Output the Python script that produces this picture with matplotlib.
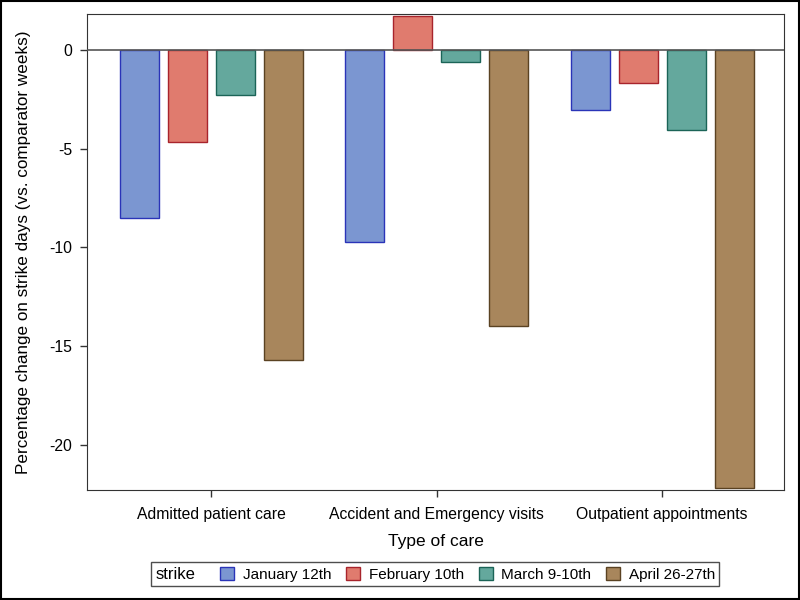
import matplotlib
matplotlib.use("Agg")
import matplotlib.pyplot as plt
import numpy as np
from matplotlib.offsetbox import HPacker
from matplotlib.patches import Rectangle

plt.rcParams["font.family"] = ["Liberation Sans", "DejaVu Sans"]
plt.rcParams["axes.unicode_minus"] = False

care_types = ["Admitted patient care", "Accident and Emergency visits", "Outpatient appointments"]
strikes = ["January 12th", "February 10th", "March 9-10th", "April 26-27th"]
jan = [-8.5, -9.7, -3.05]
feb = [-4.65, 1.72, -1.68]
mar = [-2.28, -0.6, -4.05]
apr = [-15.7, -14.0, -22.2]

fills = ["#7b96d1", "#e07b6e", "#64a89d", "#a8865c"]
edges = ["#2a34b8", "#a8242c", "#1b6457", "#5a4222"]

fig = plt.figure(figsize=(8, 6), dpi=100)
ax = fig.add_axes([0.109, 0.1833, 0.871, 0.7934])

x = np.arange(len(care_types))
step = 0.213
width = 0.173
handles = []
for i, vals in enumerate([jan, feb, mar, apr]):
    b = ax.bar(x + (i - 1.5) * step, vals, width, color=fills[i], edgecolor=edges[i],
               linewidth=1.0, label=strikes[i], zorder=2)
    handles.append(b)

ax.axhline(0, color="#555555", linewidth=1.2, zorder=3)
ax.set_xlim(-0.55, 2.54)
ax.set_ylim(-22.28, 1.82)
ax.set_yticks([0, -5, -10, -15, -20])
ax.set_xticks(x)
ax.set_xticklabels(care_types, fontsize=11.3)
ax.tick_params(axis="both", length=5, width=1, color="#333333", pad=4)
ax.tick_params(axis="x", pad=7)
ax.tick_params(axis="y", labelsize=11.3, pad=6)
ax.set_xlabel("Type of care", fontsize=12.5, labelpad=9)
ax.set_ylabel("Percentage change on strike days (vs. comparator weeks)", fontsize=12.3, labelpad=13)
for s in ax.spines.values():
    s.set_color("#333333")

leg = fig.legend(handles=handles, labels=strikes, loc="center", bbox_to_anchor=(0.544, 0.043),
                 ncol=4, fontsize=11, title="strike", title_fontsize=12, frameon=True,
                 fancybox=False, edgecolor="#222222", handlelength=0.9, handleheight=0.9,
                 handletextpad=0.55, columnspacing=1.0, borderpad=0.3, borderaxespad=0)
leg.get_frame().set_linewidth(1.0)
try:
    box = leg._legend_box
    box.__class__ = HPacker
    box.align = "center"
    box.sep = 18
except Exception:
    pass

fig.patches.append(Rectangle((0.001, 0.001), 0.998, 0.998, transform=fig.transFigure,
                             fill=False, edgecolor="black", linewidth=1.5))

fig.savefig("out.png", dpi=100)
